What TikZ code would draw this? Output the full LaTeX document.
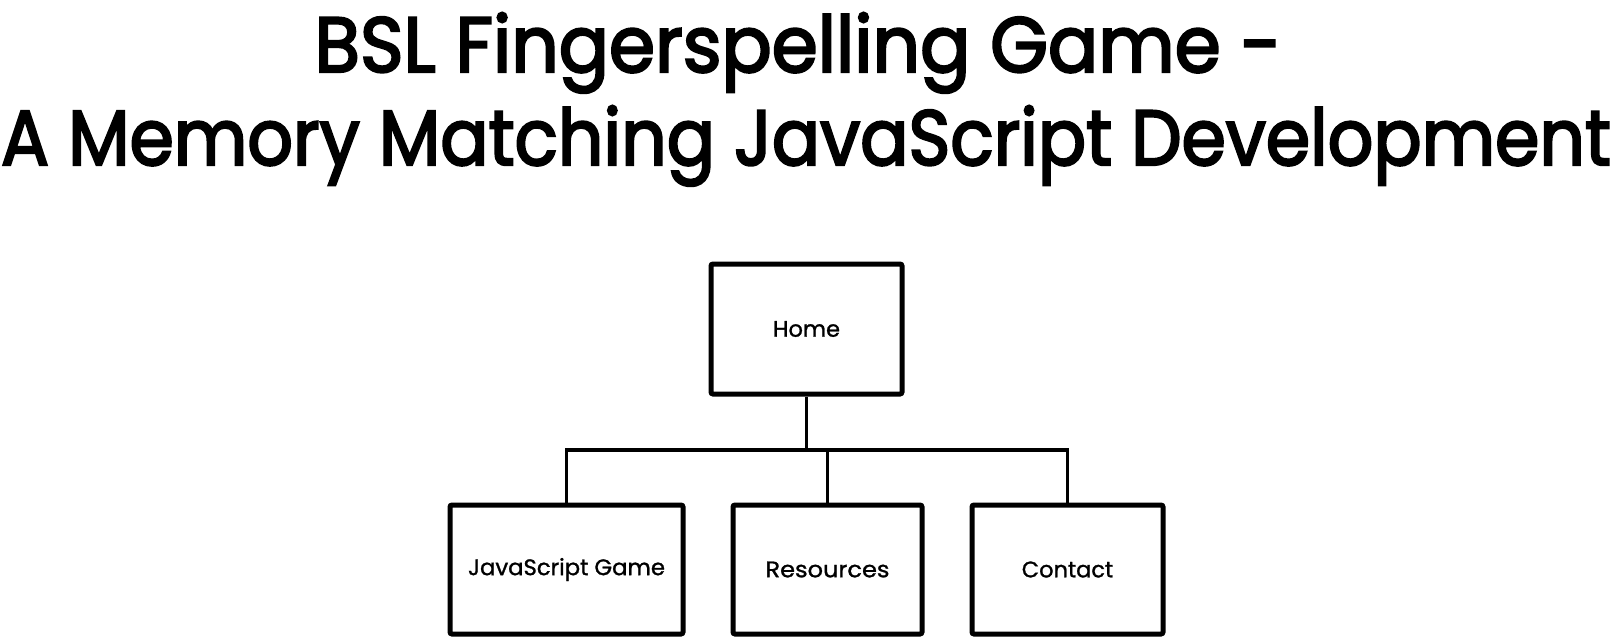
\documentclass[tikz,border=0pt]{standalone}
\usepackage{fontspec}
\setmainfont{Poppins}
\newfontfamily\headfont[FakeBold=3]{Poppins}
\newfontfamily\labelfont[FakeBold=1.2]{Poppins}
\begin{document}
\begin{tikzpicture}[x=1pt,y=-1pt]
\tikzset{
  pagebox/.style={draw, line width=5pt, rounded corners=2pt, inner sep=0pt,
    minimum height=130pt, font=\labelfont\fontsize{22.5}{26}\selectfont},
  link/.style={line width=3.4pt},
  titletext/.style={anchor=base, inner sep=0pt, font=\headfont\fontsize{78}{90}\selectfont}
}
\useasboundingbox (0,0) rectangle (1616,640);
\node[titletext] (t1) at (798,72) {\resizebox{967pt}{\height}{BSL Fingerspelling Game -}};
\node[titletext] (t2) at (806,165) {\resizebox{1610pt}{\height}{A Memory Matching JavaScript Development}};
\node[pagebox, minimum width=191pt] (home) at (806.5,329) {Home};
\node[pagebox, minimum width=233pt, minimum height=129pt] (js) at (566.5,569.5) {\resizebox{197pt}{\height}{JavaScript Game}};
\node[pagebox, minimum width=189pt, minimum height=129pt] (res) at (827.5,569.5) {\resizebox{124pt}{\height}{Resources}};
\node[pagebox, minimum width=191pt, minimum height=129pt] (con) at (1067.5,569.5) {Contact};
\coordinate (hj) at (806.5,450);
\draw[link] (home.south) -- (hj);
\draw[link] (js.north) |- (con.north |- hj) -- (con.north);
\draw[link] (res.north) -- (res.north |- hj);
\end{tikzpicture}
\end{document}
